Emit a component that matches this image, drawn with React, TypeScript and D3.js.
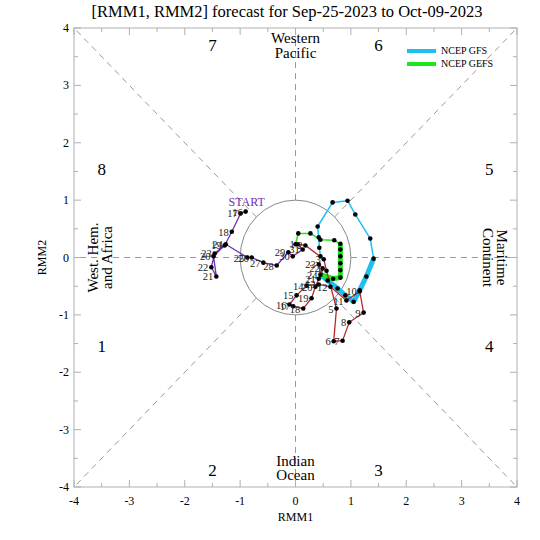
import React from "react";
import * as d3 from "d3";

// ---------- data ----------
const titleText = "[RMM1, RMM2] forecast for Sep-25-2023 to Oct-09-2023";
const axisTicks = [-4, -3, -2, -1, 0, 1, 2, 3, 4];

// Observed, August (purple)
const augDays = [16, 17, 18, 19, 20, 21, 22, 23, 24, 25, 26, 27, 28, 29, 30, 31];
const augX = [-0.9, -0.99, -1.15, -1.28, -1.48, -1.43, -1.52, -1.46, -1.26, -0.87, -0.79, -0.58, -0.34, -0.13, -0.05, 0.13];
const augY = [0.8, 0.77, 0.45, 0.21, 0.02, -0.33, -0.17, 0.07, 0.23, 0.0, 0.0, -0.09, -0.14, 0.09, 0.02, 0.14];

// Observed, September (red)
const sepDays = [1, 2, 3, 4, 5, 6, 7, 8, 9, 10, 11, 12, 13, 14, 15, 16, 17, 18, 19, 20, 21, 22, 23, 24];
const sepX = [0.04, 0.18, 0.51, 0.56, 0.74, 0.69, 0.85, 0.97, 1.23, 1.16, 0.92, 0.63, 0.42, 0.2, 0.02, -0.11, -0.04, 0.14, 0.29, 0.36, 0.42, 0.49, 0.42, 0.45];
const sepY = [0.23, 0.21, -0.03, -0.23, -0.89, -1.46, -1.45, -1.13, -0.96, -0.59, -0.75, -0.51, -0.47, -0.49, -0.66, -0.82, -0.85, -0.89, -0.71, -0.51, -0.37, -0.19, -0.12, -0.3];

// Forecasts (start from last observed point)
const gfsX = [0.58, 0.76, 0.9, 1.05, 1.16, 1.28, 1.41, 1.35, 1.08, 0.94, 0.67, 0.4, 0.42, 0.43, 0.45];
const gfsY = [-0.4, -0.54, -0.66, -0.77, -0.57, -0.33, -0.02, 0.33, 0.75, 0.99, 0.96, 0.54, 0.35, 0.17, 0.02];
const gefsX = [0.68, 0.81, 0.81, 0.81, 0.81, 0.81, 0.81, 0.7, 0.45, 0.27, 0.05, 0.0];
const gefsY = [-0.37, -0.35, -0.22, -0.1, 0.02, 0.14, 0.24, 0.3, 0.31, 0.42, 0.42, 0.23];

const seriesNames = ["NCEP GFS", "NCEP GEFS"];
const phaseNames = ["1", "2", "3", "4", "5", "6", "7", "8"];

// ---------- layout ----------
const W = 540, H = 540;
const L = 74, R = 517, T = 28, B = 487;
const thickDays = 7;

const x = d3.scaleLinear().domain([-4, 4]).range([L, R]);
const y = d3.scaleLinear().domain([-4, 4]).range([B, T]);

const PURPLE = "#7030b0";
const RED = "#b8282b";
const BLUE = "#1ec0f0";
const GREEN = "#1ee61e";
const SERIF = "Liberation Serif, Times New Roman, serif";

type P = { x: number; y: number; d?: number };

const line = d3
  .line<P>()
  .x((p) => x(p.x))
  .y((p) => y(p.y));

function zipPts(xs: number[], ys: number[], ds?: number[]): P[] {
  return xs.map((v, i) => ({ x: v, y: ys[i], d: ds ? ds[i] : undefined }));
}

export default function App() {
  const aug = zipPts(augX, augY, augDays);
  const sep = zipPts(sepX, sepY, sepDays);
  const last = sep[sep.length - 1];
  const gfs = [last, ...zipPts(gfsX, gfsY)];
  const gefs = [last, ...zipPts(gefsX, gefsY)];
  const augLine = [...aug, sep[0]];

  const r = Math.SQRT1_2;
  const rays: [number, number, number, number][] = [
    [1, 0, 4, 0],
    [-1, 0, -4, 0],
    [0, 1, 0, 4],
    [0, -1, 0, -4],
    [r, r, 4, 4],
    [-r, r, -4, 4],
    [r, -r, 4, -4],
    [-r, -r, -4, -4],
  ];

  const phasePos: [number, number][] = [
    [-3.5, -1.55],
    [-1.5, -3.71],
    [1.5, -3.71],
    [3.5, -1.55],
    [3.5, 1.55],
    [1.5, 3.71],
    [-1.5, 3.71],
    [-3.5, 1.55],
  ];

  const minorTicks = d3.range(-4, 4.01, 0.5);

  const forecastPath = (pts: P[], color: string) => (
    <g>
      <path d={line(pts.slice(0, thickDays + 1)) || ""} fill="none" stroke={color} strokeWidth={5} strokeLinejoin="round" />
      <path d={line(pts.slice(thickDays)) || ""} fill="none" stroke={color} strokeWidth={1.5} strokeLinejoin="round" />
    </g>
  );

  return (
    <svg width={W} height={H} style={{ position: "absolute", left: 0, top: 0, background: "#fff", fontFamily: SERIF }}>
      <rect x={0} y={0} width={W} height={H} fill="#fff" />
      {/* title */}
      <text x={287} y={17} textAnchor="middle" fontSize={16.5}>
        {titleText}
      </text>

      {/* dashed guide lines */}
      {rays.map((s, i) => (
        <line
          key={i}
          x1={x(s[0])}
          y1={y(s[1])}
          x2={x(s[2])}
          y2={y(s[3])}
          stroke="#999"
          strokeWidth={1}
          strokeDasharray="6,5"
        />
      ))}
      <ellipse cx={x(0)} cy={y(0)} rx={x(1) - x(0)} ry={y(0) - y(1)} fill="none" stroke="#888" strokeWidth={1} />

      {/* frame */}
      <rect x={L} y={T} width={R - L} height={B - T} fill="none" stroke="#b0b0b0" strokeWidth={1} />
      {minorTicks.map((t) => {
        const len = Number.isInteger(t) ? 7 : 4;
        return (
          <g key={t} stroke="#b0b0b0" strokeWidth={1}>
            <line x1={x(t)} x2={x(t)} y1={B} y2={B - len} />
            <line x1={x(t)} x2={x(t)} y1={T} y2={T + len} />
            <line y1={y(t)} y2={y(t)} x1={L} x2={L + len} />
            <line y1={y(t)} y2={y(t)} x1={R} x2={R - len} />
          </g>
        );
      })}
      {axisTicks.map((t) => (
        <text key={"xt" + t} x={x(t)} y={B + 18} textAnchor="middle" fontSize={12}>
          {t}
        </text>
      ))}
      {axisTicks.map((t) => (
        <text key={"yt" + t} x={L - 5} y={y(t) + 4} textAnchor="end" fontSize={12}>
          {t}
        </text>
      ))}
      <text x={x(0)} y={B + 34} textAnchor="middle" fontSize={12}>
        RMM1
      </text>
      <text transform={`translate(46,${y(0)}) rotate(-90)`} textAnchor="middle" fontSize={12}>
        RMM2
      </text>

      {/* phase numbers */}
      {phasePos.map((p, i) => (
        <text key={"ph" + i} x={x(p[0])} y={y(p[1]) + 6} textAnchor="middle" fontSize={17}>
          {phaseNames[i]}
        </text>
      ))}

      {/* region labels */}
      <text x={x(0)} y={y(3.73)} textAnchor="middle" fontSize={15}>
        Western
      </text>
      <text x={x(0)} y={y(3.48)} textAnchor="middle" fontSize={15}>
        Pacific
      </text>
      <text x={x(0)} y={y(-3.63)} textAnchor="middle" fontSize={15}>
        Indian
      </text>
      <text x={x(0)} y={y(-3.88)} textAnchor="middle" fontSize={15}>
        Ocean
      </text>
      <text transform={`translate(${x(-3.57)},${y(0)}) rotate(-90)`} textAnchor="middle" fontSize={15}>
        West. Hem.
      </text>
      <text transform={`translate(${x(-3.32)},${y(0)}) rotate(-90)`} textAnchor="middle" fontSize={15}>
        and Africa
      </text>
      <text transform={`translate(${x(3.64)},${y(0)}) rotate(90)`} textAnchor="middle" fontSize={15}>
        Maritime
      </text>
      <text transform={`translate(${x(3.39)},${y(0)}) rotate(90)`} textAnchor="middle" fontSize={15}>
        Continent
      </text>

      {/* forecasts */}
      {forecastPath(gfs, BLUE)}
      {forecastPath(gefs, GREEN)}

      {/* observed */}
      <path d={line(augLine) || ""} fill="none" stroke={PURPLE} strokeWidth={1.3} />
      <path d={line(sep) || ""} fill="none" stroke={RED} strokeWidth={1.3} />

      {/* dots */}
      {[...gfs.slice(1), ...gefs.slice(1)].map((p, i) => (
        <circle key={"f" + i} cx={x(p.x)} cy={y(p.y)} r={2.3} fill="#000" />
      ))}
      {[...aug, ...sep].map((p, i) => (
        <circle key={"o" + i} cx={x(p.x)} cy={y(p.y)} r={2.3} fill="#000" />
      ))}

      {/* day labels */}
      {[...aug, ...sep].map((p, i) => (
        <text key={"l" + i} x={x(p.x) - 3} y={y(p.y) + 4} textAnchor="end" fontSize={10.5} fill="#222">
          {p.d}
        </text>
      ))}
      <text x={x(aug[0].x) + 1} y={y(aug[0].y) - 6} textAnchor="middle" fontSize={12} fill={PURPLE}>
        START
      </text>

      {/* legend */}
      {seriesNames.map((n, i) => (
        <g key={n}>
          <line x1={407} x2={436} y1={51 + i * 13} y2={51 + i * 13} stroke={i === 0 ? BLUE : GREEN} strokeWidth={4} />
          <text x={441} y={54 + i * 13} fontSize={10}>
            {n}
          </text>
        </g>
      ))}
    </svg>
  );
}
